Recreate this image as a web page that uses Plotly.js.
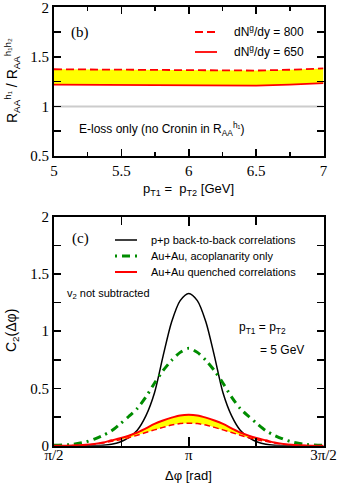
<!DOCTYPE html>
<html>
<head>
<meta charset="utf-8">
<script src="https://cdn.plot.ly/plotly-3.0.1.min.js"></script>
<style>
  html, body { margin: 0; padding: 0; background: #fff; }
  #plot { width: 341px; height: 485px; }
</style>
</head>
<body>
<div id="plot"></div>
<script>
// panel (b): ratio vs pT
const pT = [5, 5.25, 5.5, 5.75, 6, 6.25, 6.5, 6.75, 7];
const ratio800 = [1.375, 1.373, 1.372, 1.371, 1.371, 1.369, 1.362, 1.370, 1.383];
const ratio650 = [1.220, 1.219, 1.217, 1.216, 1.215, 1.213, 1.209, 1.220, 1.235];
const refX = [5, 7];
const refY = [1, 1];

// panel (c): C2 vs distance from pi (read on one side, curves are symmetric)
const dphiOff = [0, 0.1, 0.2, 0.3, 0.4, 0.5, 0.6, 0.7, 0.8, 0.9, 1.0, 1.1, 1.2, 1.35, 1.5708];
const c2pp    = [1.33, 1.267, 1.08, 0.78, 0.46, 0.26, 0.135, 0.07, 0.032, 0.012, 0.004, 0.001, 0, 0, 0];
const c2acop  = [0.85, 0.815, 0.745, 0.655, 0.545, 0.425, 0.325, 0.255, 0.19, 0.13, 0.09, 0.058, 0.033, 0.012, 0.003];
const c2q650  = [0.27, 0.264, 0.245, 0.22, 0.19, 0.152, 0.115, 0.087, 0.065, 0.047, 0.028, 0.016, 0.008, 0.002, 0];
const c2q800  = [0.197, 0.193, 0.18, 0.16, 0.138, 0.115, 0.092, 0.07, 0.052, 0.038, 0.024, 0.013, 0.006, 0.001, 0];

const phiTicks = [Math.PI / 2, Math.PI, 3 * Math.PI / 2];
const phiLabels = ['π/2', 'π', '3π/2'];

function mirrorX(off) {
  const left = off.slice(1).reverse().map(d => Math.PI - d);
  return left.concat(off.map(d => Math.PI + d));
}
function mirrorY(v) {
  return v.slice(1).reverse().concat(v);
}
const phi = mirrorX(dphiOff);

const W = 341, H = 485;
const fx = p => p / W;
const fy = p => 1 - p / H;

const RED = '#ff0000', YEL = '#ffff00', GRN = '#008c00';
const SANS = 'Liberation Sans, Arial, sans-serif';
const SERIF = 'Liberation Serif, Times New Roman, serif';

const traces = [
  // (b)
  { x: refX, y: refY, xaxis: 'x', yaxis: 'y', mode: 'lines', line: { color: '#cccccc', width: 2 }, hoverinfo: 'skip' },
  { x: pT, y: ratio650, xaxis: 'x', yaxis: 'y', mode: 'lines', line: { width: 0, color: YEL } },
  { x: pT, y: ratio800, xaxis: 'x', yaxis: 'y', mode: 'lines', fill: 'tonexty', fillcolor: YEL, line: { width: 0, color: YEL } },
  { x: pT, y: ratio800, xaxis: 'x', yaxis: 'y', mode: 'lines', name: '800', line: { color: RED, width: 1.8, dash: '8px,4px' } },
  { x: pT, y: ratio650, xaxis: 'x', yaxis: 'y', mode: 'lines', name: '650', line: { color: RED, width: 1.8 } },
  // (c)
  { x: phi, y: mirrorY(c2pp), xaxis: 'x2', yaxis: 'y2', mode: 'lines', line: { color: '#000', width: 1.5, shape: 'spline', smoothing: 0.8 } },
  { x: phi, y: mirrorY(c2acop), xaxis: 'x2', yaxis: 'y2', mode: 'lines', line: { color: GRN, width: 3, dash: '8px,5px,2px,5px', shape: 'spline', smoothing: 0.8 } },
  { x: phi, y: mirrorY(c2q800), xaxis: 'x2', yaxis: 'y2', mode: 'lines', line: { width: 0, color: YEL, shape: 'spline', smoothing: 0.8 } },
  { x: phi, y: mirrorY(c2q650), xaxis: 'x2', yaxis: 'y2', mode: 'lines', fill: 'tonexty', fillcolor: YEL, line: { width: 0, color: YEL, shape: 'spline', smoothing: 0.8 } },
  { x: phi, y: mirrorY(c2q800), xaxis: 'x2', yaxis: 'y2', mode: 'lines', line: { color: RED, width: 1.5, dash: '6px,3px', shape: 'spline', smoothing: 0.8 } },
  { x: phi, y: mirrorY(c2q650), xaxis: 'x2', yaxis: 'y2', mode: 'lines', line: { color: RED, width: 2, shape: 'spline', smoothing: 0.8 } }
];

const axisBase = {
  showline: true, linecolor: '#000', linewidth: 2, mirror: 'ticks',
  ticks: 'inside', tickcolor: '#000', tickwidth: 1.5, ticklen: 7,
  showgrid: false, zeroline: false, fixedrange: true,
  ticklabeloverflow: 'allow',
  tickfont: { family: SERIF, size: 15, color: '#000' }
};

function ann(text, x, y, opts) {
  return Object.assign({
    text: text, x: fx(x), y: fy(y), xref: 'paper', yref: 'paper',
    showarrow: false, xanchor: 'left', yanchor: 'middle',
    font: { family: SANS, size: 11, color: '#000' }
  }, opts || {});
}

function legLine(x0, x1, y, color, width, dash) {
  return { type: 'line', xref: 'paper', yref: 'paper', x0: fx(x0), x1: fx(x1), y0: fy(y), y1: fy(y),
           line: { color: color, width: width, dash: dash } };
}

const layout = {
  width: W, height: H,
  margin: { l: 0, r: 0, t: 0, b: 0 },
  paper_bgcolor: '#fff', plot_bgcolor: '#fff',
  showlegend: false,
  xaxis: Object.assign({}, axisBase, {
    domain: [fx(54), fx(323.5)], anchor: 'y', range: [5, 7], dtick: 0.5, tick0: 5,
    minor: { dtick: 0.25, ticks: 'inside', ticklen: 4, tickcolor: '#000', tickwidth: 1.5 }
  }),
  yaxis: Object.assign({}, axisBase, {
    domain: [fy(156), fy(7.3)], anchor: 'x', range: [0.5, 2], dtick: 0.5, tick0: 0.5,
    minor: { dtick: 0.25, ticks: 'inside', ticklen: 7, tickcolor: '#000', tickwidth: 1.5 }
  }),
  xaxis2: Object.assign({}, axisBase, {
    domain: [fx(54), fx(323.5)], anchor: 'y2', range: [Math.PI / 2, 3 * Math.PI / 2],
    tickmode: 'array', tickvals: phiTicks, ticktext: phiLabels, ticklen: 9,
    ticklabelstandoff: -6,
    minor: { tickvals: [3 * Math.PI / 4, 5 * Math.PI / 4], ticks: 'inside', ticklen: 8, tickcolor: '#000', tickwidth: 1.5 }
  }),
  yaxis2: Object.assign({}, axisBase, {
    domain: [fy(445.7), fy(216.7)], anchor: 'x2', range: [0, 2], dtick: 0.5, tick0: 0,
    minor: { dtick: 0.25, ticks: 'inside', ticklen: 7, tickcolor: '#000', tickwidth: 1.5 }
  }),
  shapes: [
    legLine(195, 217, 32, RED, 1.8, '8px,4px'),
    legLine(195, 217, 52, RED, 1.8, 'solid'),
    legLine(115, 137, 240, '#000', 1.5, 'solid'),
    legLine(115, 137, 256, GRN, 3, '2px,5px,8px,5px'),
    legLine(115, 137, 272, RED, 2, 'solid')
  ],
  annotations: [
    ann('(b)', 80, 33, { xanchor: 'center', font: { family: SERIF, size: 15, color: '#000' } }),
    ann('dN<sup>g</sup>/dy = 800', 232, 31, { font: { family: SANS, size: 12, color: '#000' } }),
    ann('dN<sup>g</sup>/dy = 650', 232, 51, { font: { family: SANS, size: 12, color: '#000' } }),
    ann('E-loss only (no Cronin in R<sub>AA</sub><sup>h₁</sup>)', 77, 129, { font: { family: SANS, size: 12, color: '#000' } }),
    ann('R<sub>AA</sub><sup>h₁</sup> / R<sub>AA</sub><sup>h₁h₂</sup>', 12, 81, { xanchor: 'center', textangle: -90, font: { family: SANS, size: 14, color: '#000' } }),
    ann('p<sub>T1</sub> =  p<sub>T2</sub> [GeV]', 189, 190, { xanchor: 'center', font: { family: SANS, size: 13, color: '#000' } }),
    ann('(c)', 80, 238, { xanchor: 'center', font: { family: SERIF, size: 15, color: '#000' } }),
    ann('p+p back-to-back correlations', 149, 240),
    ann('Au+Au, acoplanarity only', 149, 256),
    ann('Au+Au quenched correlations', 149, 272),
    ann('v<sub>2</sub> not subtracted', 65, 294),
    ann('p<sub>T1</sub> = p<sub>T2</sub>', 237, 328, { font: { family: SANS, size: 12, color: '#000' } }),
    ann('= 5 GeV', 258, 350, { font: { family: SANS, size: 12, color: '#000' } }),
    ann('C<sub>2</sub>(Δφ)', 12, 331, { xanchor: 'center', textangle: -90, font: { family: SANS, size: 14, color: '#000' } }),
    ann('Δφ [rad]', 189, 475, { xanchor: 'center', font: { family: SANS, size: 13, color: '#000' } })
  ]
};

Plotly.newPlot('plot', traces, layout, { staticPlot: true, displayModeBar: false });
</script>
</body>
</html>
